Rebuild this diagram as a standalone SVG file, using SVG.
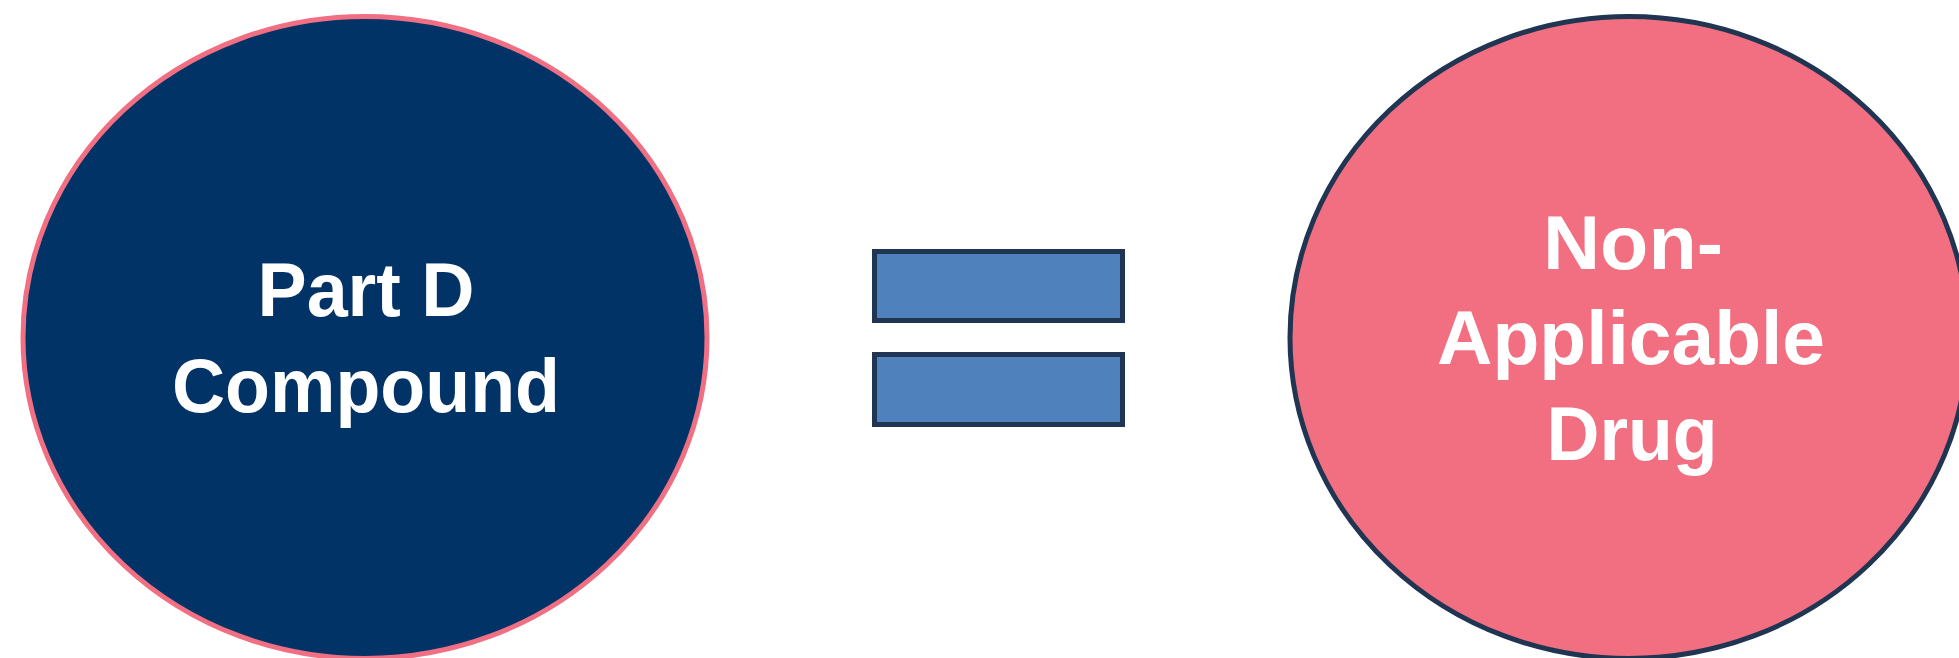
<svg xmlns="http://www.w3.org/2000/svg" width="1959" height="658" viewBox="0 0 1959 658">
<style>
.lbl{font-family:"Liberation Sans","DejaVu Sans",sans-serif;font-weight:bold;font-size:76px;fill:#FFFFFF;text-anchor:middle}
.bar{fill:#4F81BD;stroke:#1F3552;stroke-width:5}
</style>
<rect width="1959" height="658" fill="#FFFFFF"/>
<g id="part-d-compound">
<ellipse cx="365" cy="337.5" rx="342" ry="321" fill="#023366" stroke="#F06F82" stroke-width="5"/>
<text class="lbl" x="366" y="316" textLength="217" lengthAdjust="spacingAndGlyphs">Part D</text>
<text class="lbl" x="366" y="412" textLength="388" lengthAdjust="spacingAndGlyphs">Compound</text>
</g>
<g id="equals">
<rect class="bar" x="874.5" y="251.5" width="248" height="69"/>
<rect class="bar" x="874.5" y="354.5" width="248" height="70"/>
</g>
<g id="non-applicable-drug">
<ellipse cx="1629" cy="337.5" rx="339" ry="321" fill="#F26E81" stroke="#1F3552" stroke-width="5"/>
<text class="lbl" x="1633" y="269" textLength="180" lengthAdjust="spacingAndGlyphs">Non-</text>
<text class="lbl" x="1631" y="364" textLength="388" lengthAdjust="spacingAndGlyphs">Applicable</text>
<text class="lbl" x="1632" y="460" textLength="171" lengthAdjust="spacingAndGlyphs">Drug</text>
</g>
<g id="connectors"/>
</svg>
